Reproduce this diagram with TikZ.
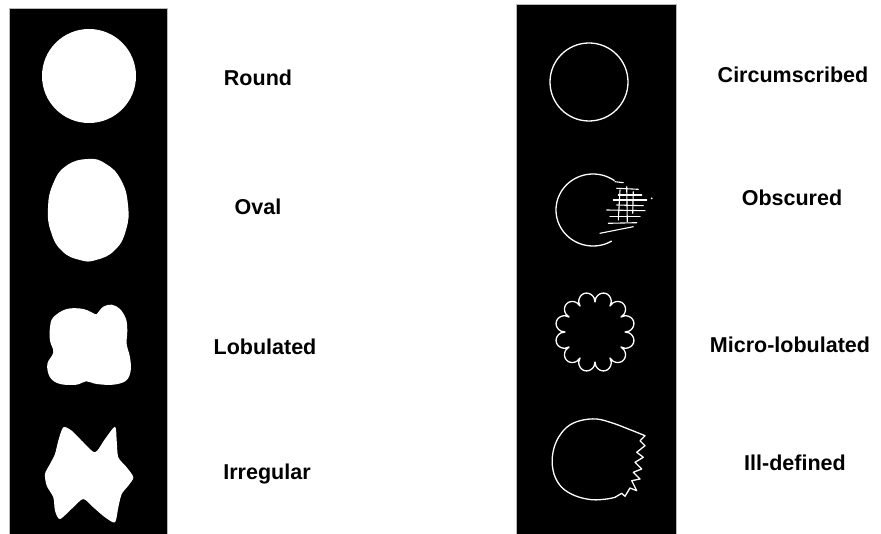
\documentclass[tikz,border=0pt]{standalone}
\usepackage{fontspec}
\setmainfont{Liberation Sans}
\begin{document}
\begin{tikzpicture}[x=1pt,y=-1pt,
  strip/.style={fill=black,draw=gray!55,line width=0.8pt},
  solid shape/.style={fill=white,draw=none},
  outline/.style={draw=white,line width=1.3pt,line join=round,line cap=round},
  scribble/.style={draw=white,line width=1.1pt,line cap=round},
  label/.style={font=\fontsize{21.5}{26}\selectfont\bfseries,text=black,inner sep=0pt}]
\useasboundingbox (0,0) rectangle (881,534);

% dark panels
\path[strip] (9,8) rectangle (167,536);
\path[strip] (516,4) rectangle (676,536);

% ---- left panel: mass shapes ----
% round
\path[solid shape] (89,76) circle[radius=47pt];
% oval (slightly narrower at the top)
\path[solid shape] plot[smooth cycle,tension=0.8] coordinates {
  (88,159) (106,164) (121,180) (128,205) (126,230) (115,250) (96,260)
  (80,260) (62,251) (51,232) (48,208) (53,184) (66,166)};
% lobulated
\path[solid shape] plot[smooth cycle,tension=0.6] coordinates {
  (53.3,317.3) (66.7,309) (83.3,309) (95,314) (97.3,313.3) (103.3,306.7)
  (111.7,304.7) (120,309) (126,319) (127.3,330.7) (126.7,344) (130,357.3)
  (130.7,370.7) (126,380.7) (113.3,384.7) (96.7,384) (86,381.3) (76.7,384.7)
  (60,384) (50,377.3) (47.3,364) (53.3,352.3) (50,340.7) (50,327.3)};
% irregular
\path[solid shape] plot[smooth cycle,tension=0.45] coordinates {
  (63.3,427.3) (71.7,430.7) (83.3,442.3) (95,452.3) (105,439) (115,426.7)
  (116.7,440.7) (118.3,457.3) (126.7,467.3) (133.3,477.3) (128.3,485.7)
  (121.7,494) (118.3,507.3) (115,522.3) (105,517.3) (93.3,507.3) (83.3,499)
  (73.3,507.3) (60,519) (55,510.7) (53.3,497.3) (46.7,485.7) (45,474)
  (50,464) (55,454) (58.3,440.7)};

% ---- right panel: margin types ----
% circumscribed
\draw[outline] (589,82) circle[radius=39pt];
% obscured: open contour with a hazy right side
\draw[outline] plot[domain=55:300,samples=60,smooth]
  ({593+37*cos(\x)},{210-36*sin(\x)});
\draw[scribble] (615,181.7) -- (623.3,182.7);
\draw[scribble] (616.7,188.3) -- (638.3,189.3);
\draw[scribble] (618.3,195) -- (641.7,195);
\draw[scribble] (613.3,200) -- (646.7,200);
\draw[scribble] (616.7,205) -- (643.3,205.7);
\draw[scribble] (606.7,210) -- (645,210.7);
\draw[scribble] (610,216.7) -- (640,216.7);
\draw[scribble] (608.3,223.3) -- (636.7,222.7);
\draw[scribble] (600,233.3) -- (633.3,226.7);
\draw[scribble] (626.7,186.7) -- (627.3,221.7);
\draw[scribble] (620,190) -- (618.3,220);
\draw[scribble] (633.3,191.7) -- (632.7,213.3);
\fill[white] (651.7,198.3) circle[radius=1pt];
% micro-lobulated
\draw[outline] plot[domain=0:360,samples=241]
  ({595+(30+10*sqrt(abs(sin(6*\x))))*cos(\x)},
   {332+(30+10*sqrt(abs(sin(6*\x))))*sin(\x)}) -- cycle;
% ill-defined: smooth left side, jagged right side
\draw[outline] plot[smooth,tension=0.6] coordinates {
  (636.7,432.3) (628.3,429) (613.3,423.3) (596.7,419) (580,420.7)
  (566.7,427.3) (556.7,440.7) (552.3,457.3) (554,474) (561.7,487.3)
  (575,495.7) (591.7,499.7) (606.7,499) (615,497.3)}
  -- (621.7,493.3) -- (625,496.3) -- (630,488) -- (636.7,490.7)
  -- (631.7,480.7) -- (640,479) -- (633.3,472.3) -- (641.7,469)
  -- (635,462.3) -- (643.3,457.3) -- (636.7,452.3) -- (645,445.7)
  -- (640,440.7) -- (645,435.7) -- (636.7,432.3);

% ---- labels ----
\node[label] (round)   at (258,78)  {Round};
\node[label] (oval)    at (258,207) {Oval};
\node[label] (lobul)   at (265,347) {Lobulated};
\node[label] (irreg)   at (267,474) {Irregular};
\node[label] (circum)  at (793,75)  {Circumscribed};
\node[label] (obsc)    at (792,198) {Obscured};
\node[label] (micro)   at (790,345) {Micro-lobulated};
\node[label] (illdef)  at (795,463) {Ill-defined};
\end{tikzpicture}
\end{document}
